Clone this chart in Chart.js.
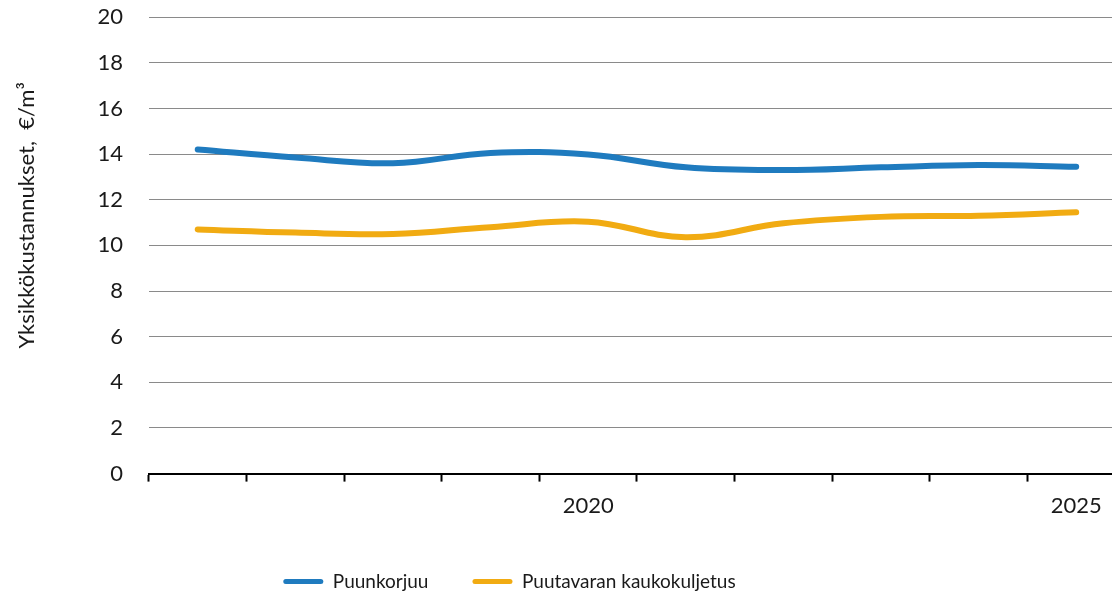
<!DOCTYPE html>
<html>
<head>
<meta charset="utf-8">
<script src="https://cdn.jsdelivr.net/npm/chart.js@4/dist/chart.umd.min.js"></script>
<style>
  html, body { margin: 0; padding: 0; background: #fff; overflow: hidden; }
  #wrap { width: 1130px; height: 656px; margin-top: -22px; }
</style>
</head>
<body>
<div id="wrap"><canvas id="c" width="1130" height="656"></canvas></div>
<script>
const years = ['2016','2017','2018','2019','2020','2021','2022','2023','2024','2025'];
const shownYearLabels = ['2020','2025'];
const puunkorjuu = [14.2, 13.85, 13.6, 14.05, 13.98, 13.42, 13.3, 13.42, 13.52, 13.45];
const kaukokuljetus = [10.7, 10.56, 10.5, 10.8, 11.04, 10.36, 10.97, 11.25, 11.3, 11.45];
const seriesNames = ['Puunkorjuu', 'Puutavaran kaukokuljetus'];
const yTitle = 'Yksikkökustannukset,  €/m³';

const FONT = 'Lato, "Open Sans", sans-serif';

const tweaks = {
  id: 'tweaks',
  afterLayout(chart) {
    const lg = chart.legend;
    if (lg) {
      lg.left -= 60; lg.right -= 60;
      const h = lg.bottom - lg.top;
      lg.top = 550; lg.bottom = 550 + h;
    }
  },
  beforeDraw(chart) {
    const s = chart.scales.y;
    if (s && !s._titlePatched) {
      const orig = s.drawTitle;
      s.drawTitle = function() {
        const ctx = this.ctx;
        ctx.save();
        ctx.translate(0, -30);
        orig.apply(this, arguments);
        ctx.restore();
      };
      s._titlePatched = true;
    }
  }
};

new Chart(document.getElementById('c'), {
  type: 'line',
  data: {
    labels: years,
    datasets: [
      { label: seriesNames[0], data: puunkorjuu, borderColor: '#1f7bbf', backgroundColor: '#1f7bbf',
        borderWidth: 6, pointRadius: 0, tension: 0.4, borderCapStyle: 'round', borderJoinStyle: 'round' },
      { label: seriesNames[1], data: kaukokuljetus, borderColor: '#f1ab12', backgroundColor: '#f1ab12',
        borderWidth: 6, pointRadius: 0, tension: 0.4, borderCapStyle: 'round', borderJoinStyle: 'round' }
    ]
  },
  options: {
    responsive: false,
    animation: false,
    layout: { padding: { top: 0, left: 14, right: 5, bottom: 0 } },
    plugins: {
      legend: {
        position: 'bottom',
        labels: {
          font: { family: FONT, size: 19 },
          color: '#1a1a1a',
          boxWidth: 40,
          boxHeight: 5,
          useBorderRadius: true,
          borderRadius: 2.5,
          padding: 44,
          generateLabels: function(chart) {
            return Chart.defaults.plugins.legend.labels.generateLabels(chart).map(l => Object.assign(l, { lineWidth: 0 }));
          }
        }
      },
      tooltip: { enabled: false }
    },
    scales: {
      x: {
        offset: true,
        grid: { offset: true, drawOnChartArea: false, drawTicks: true, tickLength: 8, tickWidth: 2, tickColor: '#000' },
        border: { display: true, color: '#000', width: 2 },
        ticks: {
          autoSkip: false,
          maxRotation: 0,
          padding: 11,
          color: '#1a1a1a',
          font: { family: FONT, size: 22 },
          callback: function(v, i) { const l = years[i]; return shownYearLabels.includes(l) ? l : ''; }
        },
        afterFit: function(s) { s.height += 31; }
      },
      y: {
        min: 0, max: 20,
        ticks: { stepSize: 2, padding: 26, color: '#1a1a1a', font: { family: FONT, size: 22 } },
        grid: { color: '#8a8a8a', lineWidth: 1, drawTicks: false },
        border: { display: false },
        title: { display: true, text: yTitle, color: '#1a1a1a', font: { family: FONT, size: 22 }, padding: { top: 0, bottom: 31 } }
      }
    }
  },
  plugins: [tweaks]
});
</script>
</body>
</html>
